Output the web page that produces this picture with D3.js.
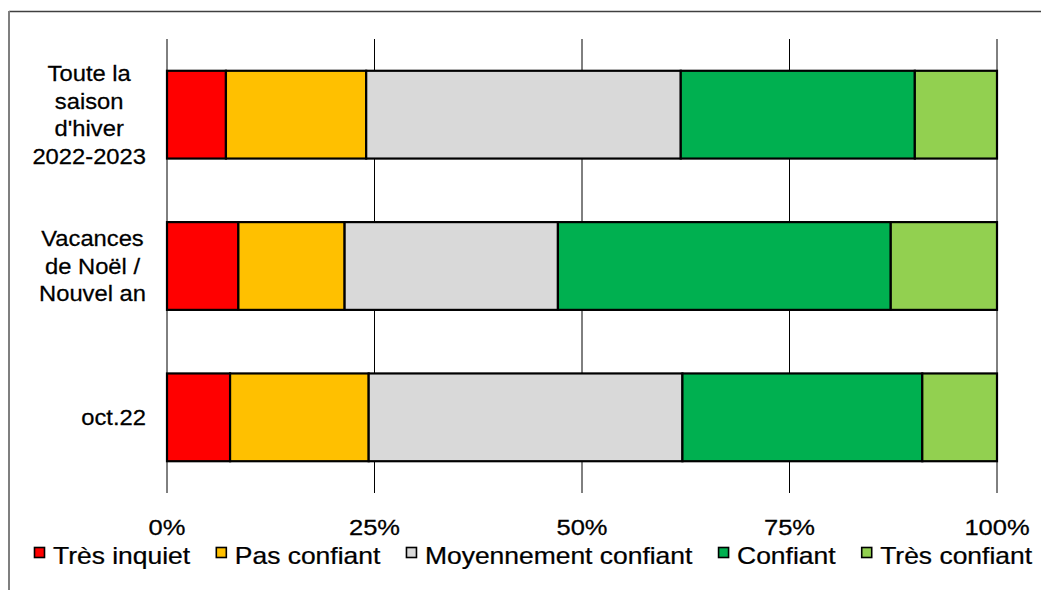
<!DOCTYPE html>
<html>
<head>
<meta charset="utf-8">
<script src="https://cdn.jsdelivr.net/npm/d3@7"></script>
<style>
body { margin: 0; background: #fff; }
svg { display: block; font-family: "Liberation Sans", Arial, sans-serif; }
svg text { fill: #000; stroke: #000; stroke-width: 0.25px; }
</style>
</head>
<body>
<script>
var w = 1041;
var h = 590;

// categories (top to bottom) and their wrapped label lines
var categories = ["Toute la saison d'hiver 2022-2023", "Vacances de Noël / Nouvel an", "oct.22"];
var categoryLines = [["Toute la", "saison", "d'hiver", "2022-2023"], ["Vacances", "de Noël /", "Nouvel an"], ["oct.22"]];

// series values, percent
var seriesNames = ["Très inquiet", "Pas confiant", "Moyennement confiant", "Confiant", "Très confiant"];
var tresInquiet = [7.1, 8.6, 7.6];
var pasConfiant = [16.9, 12.8, 16.7];
var moyennement = [37.9, 25.7, 37.8];
var confiant = [28.2, 40.1, 28.9];
var tresConfiant = [9.9, 12.8, 9.0];
var seriesColors = ["#FF0000", "#FFC000", "#D9D9D9", "#00B050", "#92D050"];

var tickValues = [0, 25, 50, 75, 100];

var svg = d3.select("body")
    .append("svg")
        .attr("width", w)
        .attr("height", h);

// chart frame (partly cut off)
svg.append("line")
    .attr("x1", 9).attr("x2", w).attr("y1", 11.5).attr("y2", 11.5)
    .attr("stroke", "#404040").attr("stroke-width", 1.5);
svg.append("line")
    .attr("x1", 9).attr("x2", 9).attr("y1", 11).attr("y2", h)
    .attr("stroke", "#7f7f7f").attr("stroke-width", 2);

var x = d3.scaleLinear().domain([0, 100]).range([167, 997]);
var y = d3.scaleBand().domain(categories).range([39, 493]).paddingInner(0.42).paddingOuter(0.21);

// the reference text is a little wider than Arial, so scale glyphs in x
var placeText = function(g, tx, ty, k) {
    g.attr("transform", "translate(" + tx + "," + ty + ") scale(" + k + ",1)");
}

// gridlines
svg.append("g")
    .selectAll("line")
    .data(tickValues)
    .enter()
    .append("line")
        .attr("x1", function(d) { return x(d); })
        .attr("x2", function(d) { return x(d); })
        .attr("y1", 39)
        .attr("y2", 493)
        .attr("stroke", "#000")
        .attr("stroke-width", 1);

// bars
var table = [tresInquiet, pasConfiant, moyennement, confiant, tresConfiant];
var rows = categories.map(function(c, i) {
    var r = { cat: c };
    seriesNames.forEach(function(s, j) { r[s] = table[j][i]; });
    return r;
});
var stacked = d3.stack().keys(seriesNames)(rows);

svg.append("g")
    .selectAll("g")
    .data(stacked)
    .enter()
    .append("g")
        .attr("fill", function(d, i) { return seriesColors[i]; })
    .selectAll("rect")
    .data(function(d) { return d; })
    .enter()
    .append("rect")
        .attr("x", function(d) { return x(d[0]); })
        .attr("width", function(d) { return x(d[1]) - x(d[0]); })
        .attr("y", function(d) { return y(d.data.cat); })
        .attr("height", y.bandwidth())
        .attr("stroke", "#000")
        .attr("stroke-width", 2.2);

// x tick labels
svg.append("g")
    .selectAll("text")
    .data(tickValues)
    .enter()
    .append("text")
        .attr("text-anchor", "middle")
        .attr("font-size", 22)
        .text(function(d) { return d + "%"; })
        .each(function(d) { placeText(d3.select(this), x(d), 535, 1.16); });

// category labels: lines centred in a block, block right-aligned
var lineH = 27.6;
var catK = 1.08;
categories.forEach(function(c, i) {
    var lines = categoryLines[i];
    var t = svg.append("g").selectAll("text")
        .data(lines)
        .enter()
        .append("text")
            .attr("font-size", 22)
            .attr("text-anchor", "middle")
            .text(function(d) { return d; });
    var maxW = d3.max(t.nodes(), function(n) { return n.getComputedTextLength(); }) * catK;
    var cy = y(c) + y.bandwidth() / 2;
    var first = cy + 7.8 - (lines.length - 1) * lineH / 2;
    t.each(function(d, k) { placeText(d3.select(this), 146 - maxW / 2, first + k * lineH, catK); });
});

// legend, spread from x=34 to x=1032
var legK = 1.15;
var legend = svg.append("g");
var items = legend.selectAll("g")
    .data(seriesNames)
    .enter()
    .append("g");
items.append("rect")
    .attr("x", 0.5)
    .attr("width", 10).attr("height", 10)
    .attr("y", 547.5)
    .attr("fill", function(d, i) { return seriesColors[i]; })
    .attr("stroke", "#000")
    .attr("stroke-width", 1.6);
var labels = items.append("text")
    .attr("font-size", 23)
    .text(function(d) { return d; })
    .each(function() { placeText(d3.select(this), 19, 564, legK); });

var widths = [];
labels.each(function() { widths.push(19 + this.getComputedTextLength() * legK); });
var gap = (1032 - 34 - d3.sum(widths)) / (widths.length - 1);
var pos = 34;
var offsets = widths.map(function(wd) { var p = pos; pos += wd + gap; return p; });
items.attr("transform", function(d, i) { return "translate(" + offsets[i] + ",0)"; });
</script>
</body>
</html>
